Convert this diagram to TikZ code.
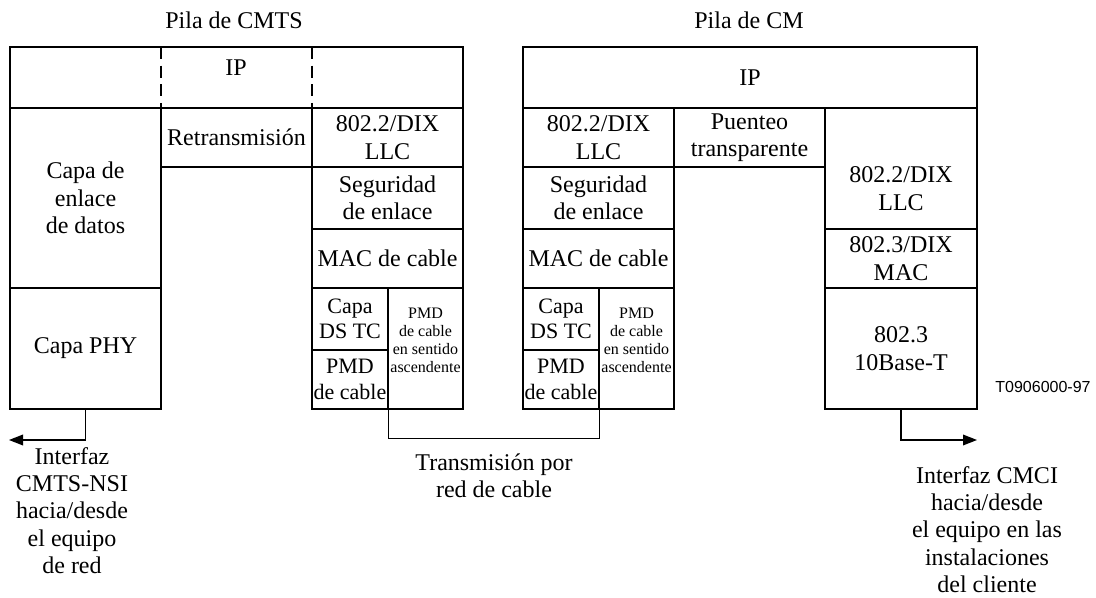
\documentclass[tikz,border=0pt]{standalone}
\usepackage{fontspec}
\setmainfont{Liberation Serif}
\newfontfamily\rotulo{Liberation Sans}
\usetikzlibrary{arrows.meta,fit}

\tikzset{
  capa/.style={draw, line width=1pt, inner sep=0pt},
  texto/.style={align=center, inner sep=0pt, font=\fontsize{18}{20.5}\selectfont},
  angosta/.style={texto, font=\fontsize{16.5}{19}\selectfont},
  chica/.style={texto, font=\fontsize{12}{13.5}\selectfont},
  linea/.style={line width=1pt},
  flecha/.style={linea, -{Triangle[length=10.5pt,width=8pt]}}
}

\begin{document}
\begin{tikzpicture}[x=0.75pt,y=-0.75pt]
\useasboundingbox (0,0) rectangle (1096,598);

% titulos
\node[texto] (tcmts) at (234,20) {Pila de CMTS};
\node[texto] (tcm) at (749,20) {Pila de CM};

% pila de CMTS
\node[capa, fit={(10,47) (463,108)}] (cmtsip) {};
\node[texto] at (236,68) {IP};
\draw[linea, dash pattern=on 9pt off 5pt] (161,47) -- (161,108);
\draw[linea, dash pattern=on 9pt off 5pt] (312,47) -- (312,108);
\node[capa, fit={(10,108) (161,288)}, label={[texto]center:{Capa de\\enlace\\de datos}}] (enlace) {};
\node[capa, fit={(10,288) (161,409)}, label={[texto]center:Capa PHY}] (phy) {};
\node[capa, fit={(161,108) (312,167)}, label={[texto]center:Retransmisi\'on}] (retrans) {};
\node[capa, fit={(312,108) (463,167)}, label={[texto]center:{802.2/DIX\\LLC}}] (cmtsllc) {};
\node[capa, fit={(312,167) (463,229)}, label={[texto]center:{Seguridad\\de enlace}}] (cmtsseg) {};
\node[capa, fit={(312,229) (463,288)}, label={[texto]center:MAC de cable}] (cmtsmac) {};
\node[capa, fit={(312,288) (388,350)}, label={[angosta]center:{Capa\\DS TC}}] (cmtstc) {};
\node[capa, fit={(312,350) (388,409)}, label={[angosta]center:{PMD\\de cable}}] (cmtspmd) {};
\node[capa, fit={(388,288) (463,409)}, label={[chica, yshift=6pt]center:{PMD\\de cable\\en sentido\\ascendente}}] (cmtsasc) {};
\draw[linea] (161,167) -- (161,409);

% pila de CM
\node[capa, fit={(523,47) (977,108)}, label={[texto]center:IP}] (cmip) {};
\node[capa, fit={(523,108) (674,167)}, label={[texto]center:{802.2/DIX\\LLC}}] (cmllc) {};
\node[capa, fit={(523,167) (674,229)}, label={[texto]center:{Seguridad\\de enlace}}] (cmseg) {};
\node[capa, fit={(523,229) (674,288)}, label={[texto]center:MAC de cable}] (cmmac) {};
\node[capa, fit={(523,288) (599,350)}, label={[angosta]center:{Capa\\DS TC}}] (cmtc) {};
\node[capa, fit={(523,350) (599,409)}, label={[angosta]center:{PMD\\de cable}}] (cmpmd) {};
\node[capa, fit={(599,288) (674,409)}, label={[chica, yshift=6pt]center:{PMD\\de cable\\en sentido\\ascendente}}] (cmasc) {};
\node[capa, fit={(674,108) (825,167)}, label={[texto]center:{Puenteo\\transparente}}] (puente) {};
\node[capa, fit={(825,108) (977,229)}, label={[texto, yshift=-15pt]center:{802.2/DIX\\LLC}}] (ethllc) {};
\node[capa, fit={(825,229) (977,288)}, label={[texto]center:{802.3/DIX\\MAC}}] (ethmac) {};
\node[capa, fit={(825,288) (977,409)}, label={[texto]center:{802.3\\10Base-T}}] (diezbt) {};
\draw[linea] (674,167) -- (674,409);
\draw[linea] (825,167) -- (825,409);

% conexiones
\coordinate (izq) at (9,440);
\coordinate (der) at (977,440);
\draw[flecha] (phy.south) |- (izq);
\draw[flecha] (diezbt.south) |- (der);
\draw[linea] (cmtspmd.south east) -- ++(0,29) -| (cmpmd.south east);

% rotulos
\node[texto, anchor=north] (nsi) at (72,447) {Interfaz\\CMTS-NSI\\hacia/desde\\el equipo\\de red};
\node[texto] (red) at (494,476) {Transmisi\'on por\\red de cable};
\node[texto, anchor=north] (cmci) at (987,466) {Interfaz CMCI\\hacia/desde\\el equipo en las\\instalaciones\\del cliente};
\node[font=\rotulo\fontsize{12}{14}\selectfont] (ref) at (1043,387) {T0906000-97};
\end{tikzpicture}
\end{document}
